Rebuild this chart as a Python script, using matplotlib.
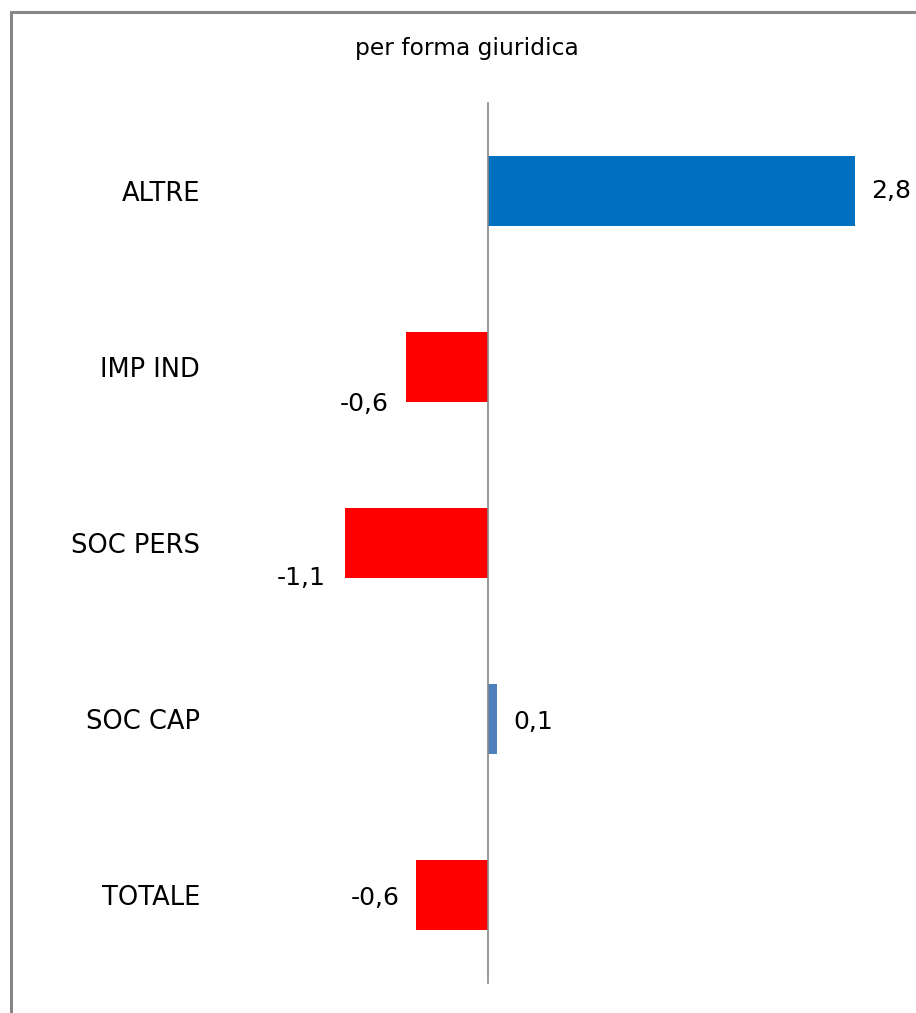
import matplotlib
matplotlib.use("Agg")
import matplotlib.pyplot as plt
from matplotlib.patches import Rectangle
import matplotlib.transforms as mtrans

# ---- data ----
categories = ["ALTRE", "IMP IND", "SOC PERS", "SOC CAP", "TOTALE"]
values = [2.8, -0.63, -1.09, 0.07, -0.55]
value_labels = ["2,8", "-0,6", "-1,1", "0,1", "-0,6"]
bar_colors = ["#0070C0", "#FF0000", "#FF0000", "#4F81BD", "#FF0000"]
title = "per forma giuridica"

# ---- layout ----
W, H, DPI = 916, 1013, 100
fig = plt.figure(figsize=(W / DPI, H / DPI), dpi=DPI)
fig.patch.set_facecolor("white")

# outer chart border (left/top visible; right/bottom run off canvas)
fig.add_artist(Rectangle((10.5 / W, -0.05), 1.2, (H - 12.5) / H + 0.05,
                         transform=fig.transFigure, fill=False,
                         edgecolor="#868686", linewidth=2.2))

ax_left, ax_right = 226, 901
ax_top, ax_bottom = 103, 983
ax = fig.add_axes([ax_left / W, (H - ax_bottom) / H,
                   (ax_right - ax_left) / W, (ax_bottom - ax_top) / H])

n = len(categories)
ypos = list(range(n))
ax.barh(ypos, values, height=0.40, color=bar_colors, zorder=2)
ax.set_ylim(n - 0.5, -0.5)
ax.set_xlim(-2.0, 3.15)

for s in ["top", "right", "bottom"]:
    ax.spines[s].set_visible(False)
ax.spines["left"].set_position(("data", 0))
ax.spines["left"].set_color("#868686")
ax.spines["left"].set_linewidth(1.2)
ax.spines["left"].set_zorder(3)
ax.set_xticks([])

ax.set_yticks(ypos)
ax.set_yticklabels(categories, fontsize=18.5, color="black")
ax.tick_params(axis="y", length=0, pad=0)
offset = mtrans.ScaledTranslation(-(488 - 200) / DPI, 0, fig.dpi_scale_trans)
for lbl in ax.get_yticklabels():
    lbl.set_horizontalalignment("right")
    lbl.set_transform(lbl.get_transform() + offset)

# value labels: (dx px, dy px) offsets
label_offsets = [(16, 0), (-17, -37), (-20, -35), (16, -3), (-16, -3)]
for y, v, t, (dx, dy) in zip(ypos, values, value_labels, label_offsets):
    ha = "left" if v >= 0 else "right"
    ax.annotate(t, xy=(v, y), xytext=(dx * 72 / DPI, dy * 72 / DPI),
                textcoords="offset points", ha=ha, va="center",
                fontsize=18, color="black")

fig.text(467 / W, 1 - 48 / H, title, ha="center", va="center",
         fontsize=16.8, color="black")

fig.savefig("out.png", dpi=DPI, facecolor="white")
